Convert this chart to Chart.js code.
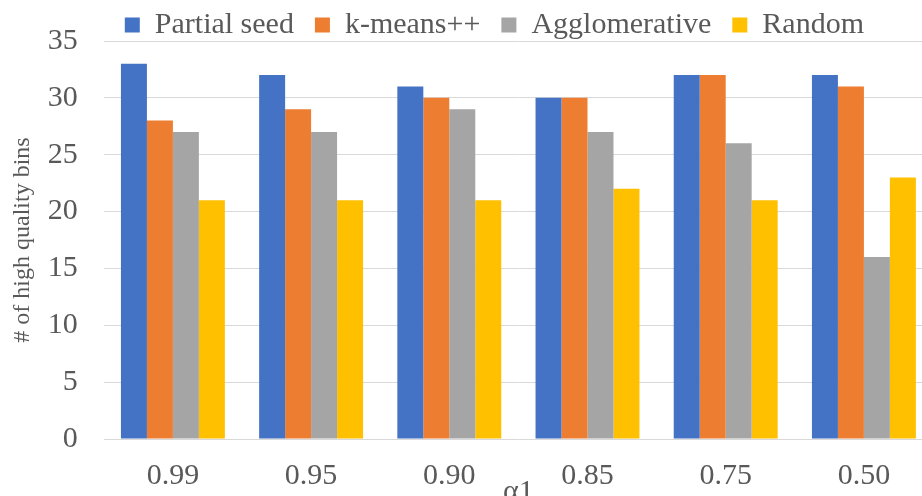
<!DOCTYPE html>
<html>
<head>
<meta charset="utf-8">
<script src="https://cdn.jsdelivr.net/npm/chart.js@4.4.1/dist/chart.umd.min.js"></script>
<style>
    html, body { margin: 0; padding: 0; background: #ffffff; overflow: hidden; width: 922px; height: 496px; }
    /* plot runs off the right and bottom edge in the reference, so the box is bigger than the window */
    .hq-chart-wrap { position: absolute; left: 0; top: 0; width: 933px; height: 510px; }
</style>
</head>
<body>
<div class="hq-chart-wrap"><canvas id="hqBinsChart"></canvas></div>
<script>
    // alpha1 thresholds on the x axis
    var alphaLabels = ['0.99', '0.95', '0.90', '0.85', '0.75', '0.50'];

    // number of high quality bins per seeding method
    var partialSeed = [33, 32, 31, 30, 32, 32];
    var kMeansPP = [28, 29, 30, 30, 32, 31];
    var agglomerative = [27, 27, 29, 27, 26, 16];
    var randomSeed = [21, 21, 21, 22, 21, 23];

    var seriesNames = ['Partial seed', 'k-means++', 'Agglomerative', 'Random'];
    var seriesColors = ['#4472C4', '#ED7D31', '#A5A5A5', '#FFC000'];

    var textColor = '#595959';
    var gridColor = '#D9D9D9';
    var serif = '"Liberation Serif", "Times New Roman", serif';

    (function () {
        var seriesData = [partialSeed, kMeansPP, agglomerative, randomSeed];
        var datasets = [];
        for (var i = 0; i < seriesNames.length; i++) {
            datasets.push({
                label: seriesNames[i],
                data: seriesData[i],
                backgroundColor: seriesColors[i],
                borderWidth: 0,
                barPercentage: 1,
                categoryPercentage: 0.752
            });
        }

        // legend keeps wide item spacing but takes less height and sits higher
        const legendNudge = {
            id: 'legendNudge',
            beforeInit: function (chart) {
                const originalFit = chart.legend.fit;
                chart.legend.fit = function fit() {
                    originalFit.bind(chart.legend)();
                    this.height = 41;
                };
            },
            afterLayout: function (chart) {
                // only the top edge moves, so the text is not clipped
                chart.legend.top -= 11;
            }
        };

        var config = {
            type: 'bar',
            data: { labels: alphaLabels, datasets: datasets },
            options: {
                responsive: true,
                maintainAspectRatio: false,
                animation: false,
                layout: { padding: 0 },
                plugins: {
                    legend: {
                        display: true,
                        position: 'top',
                        align: 'start',
                        fullSize: false,
                        labels: {
                            boxWidth: 15,
                            boxHeight: 15,
                            padding: 21,
                            color: textColor,
                            font: { family: serif, size: 30 }
                        }
                    },
                    tooltip: { enabled: false }
                },
                scales: {
                    x: {
                        grid: { display: false },
                        border: { display: false },
                        ticks: {
                            color: textColor,
                            padding: 11,
                            maxRotation: 0,
                            font: { family: serif, size: 30 }
                        },
                        title: {
                            display: true,
                            text: 'α1',
                            color: textColor,
                            padding: { top: -31, bottom: 0 },
                            font: { family: serif, size: 30 }
                        }
                    },
                    y: {
                        min: 0,
                        max: 35,
                        grid: { color: gridColor, lineWidth: 1, drawTicks: false },
                        border: { display: false },
                        ticks: {
                            stepSize: 5,
                            color: textColor,
                            padding: 26,
                            font: { family: serif, size: 30, lineHeight: 1 }
                        },
                        title: {
                            display: true,
                            text: '# of high quality bins',
                            color: textColor,
                            padding: { top: 8, bottom: -15 },
                            font: { family: serif, size: 24 }
                        }
                    }
                }
            },
            plugins: [legendNudge]
        };

        var ctx = document.getElementById('hqBinsChart').getContext('2d');
        new Chart(ctx, config);
    })();
</script>
</body>
</html>
